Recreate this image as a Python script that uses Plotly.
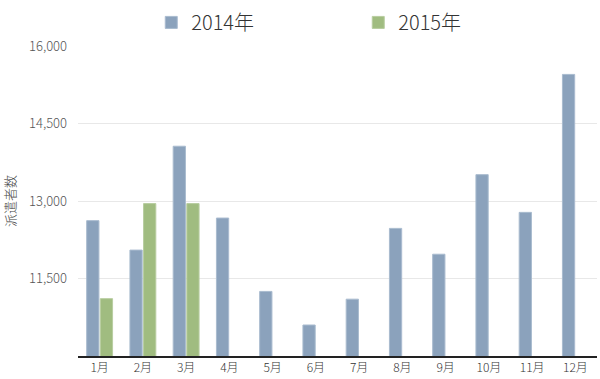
import plotly.graph_objects as go

months = ["1月", "2月", "3月", "4月", "5月", "6月", "7月", "8月", "9月", "10月", "11月", "12月"]
vals_2014 = [12620, 12050, 14060, 12670, 11250, 10600, 11100, 12470, 11970, 13510, 12780, 15450]
vals_2015 = [11110, 12950, 12950, None, None, None, None, None, None, None, None, None]
tick_vals = [11500, 13000, 14500, 16000]
tick_text = ["11,500", "13,000", "14,500", "16,000"]

font_family = "Noto Sans CJK JP, Noto Sans, sans-serif"

fig = go.Figure()
fig.add_trace(go.Bar(x=months, y=vals_2014, name="2014年",
                     marker=dict(color="#8BA2BC", line=dict(color="#A9BBCF", width=1))))
fig.add_trace(go.Bar(x=months, y=vals_2015, name="2015年",
                     marker=dict(color="#A0BC80", line=dict(color="#B8CDA0", width=1))))

fig.update_layout(
    width=600, height=379,
    margin=dict(l=78, r=3, t=44, b=23),
    paper_bgcolor="white", plot_bgcolor="white",
    barmode="group", bargap=0.37, bargroupgap=0.1,
    font=dict(family=font_family, color="#444"),
    legend=dict(orientation="h", x=0.54, xanchor="center",
                y=1.139, yanchor="top",
                font=dict(size=20, color="#333", weight=300), entrywidth=162, itemclick=False),
    xaxis=dict(showgrid=False, showline=True, linecolor="#222", linewidth=1.5,
               ticks="", tickfont=dict(size=12, color="#333", weight=300)),
    yaxis=dict(range=[10000, 16000], tickvals=tick_vals, ticktext=tick_text,
               showgrid=True, gridcolor="#E8E8E8", gridwidth=1, zeroline=False,
               ticks="", ticklabelstandoff=10, tickfont=dict(size=13, color="#555", weight=300),
               title=dict(text="派遣者数", font=dict(size=13, color="#444", weight=300), standoff=14)),
)

fig.write_html("out.html")
